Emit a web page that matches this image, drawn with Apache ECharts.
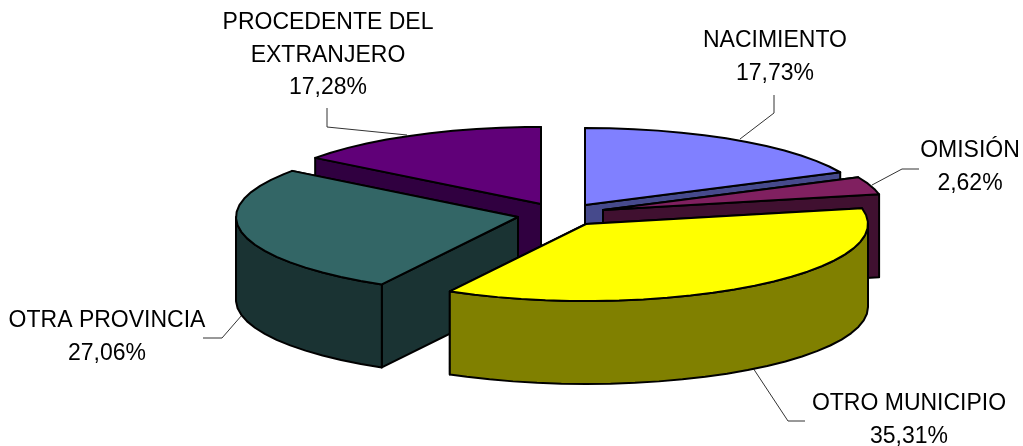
<!DOCTYPE html>
<html>
<head>
<meta charset="utf-8">
<style>
  html, body { margin: 0; padding: 0; background: #fff; }
  #chart { width: 1023px; height: 446px; }
</style>
<script src="https://cdn.jsdelivr.net/npm/echarts@6/dist/echarts.min.js"></script>
</head>
<body>
<div id="chart"></div>
<script>
// datos del grafico
const categories = ['NACIMIENTO', 'OMISIÓN', 'OTRO MUNICIPIO', 'OTRA PROVINCIA', 'PROCEDENTE DEL EXTRANJERO'];
const values = [17.73, 2.62, 35.31, 27.06, 17.28];

// estilo de cada porcion
const topColors = ['#8080FF', '#802060', '#FFFF00', '#336666', '#600078'];
const sideColors = ['#464A8C', '#401030', '#808000', '#1A3333', '#300040'];

// centro de cada porcion ya separada (explode)
const centers = [[585, 205], [603, 210], [586, 224], [518, 217], [541, 204]];
// la perspectiva del original corre un poco los limites entre porciones (grados)
const boundaryShift = [0, 1, 5, 8.5, 9, 0];
const rx = 282, ry = 77, depth = 83;
const arcStep = 5;
// atras primero, adelante al final
const drawOrder = [4, 0, 1, 3, 2];

// etiquetas: lineas de texto y linea guia
const labelLines = [
  ['NACIMIENTO', '17,73%'],
  ['OMISIÓN', '2,62%'],
  ['OTRO MUNICIPIO', '35,31%'],
  ['OTRA PROVINCIA', '27,06%'],
  ['PROCEDENTE DEL', 'EXTRANJERO', '17,28%']
];
const labelPos = [[775, 41], [970, 151], [909, 404], [107, 321], [328, 23]];
const lineGap = 32.5;
const leaders = [
  [[774, 95], [774, 113], [740, 139]],
  [[919, 169], [902, 169], [872, 185]],
  [[753, 368], [788, 421], [805, 421]],
  [[203, 338], [222, 338], [242, 315]],
  [[327, 108], [327, 127], [407, 135]]
];

const total = values.reduce((a, b) => a + b, 0);
let acc = 0;
const boundaries = [0];
values.forEach((v) => {
  acc += v;
  boundaries.push((acc / total) * 360);
});
boundaries.forEach((b, i) => {
  boundaries[i] = b + boundaryShift[i];
});

const pointAt = (c, deg) => {
  const r = (deg * Math.PI) / 180;
  return [c[0] + rx * Math.sin(r), c[1] - ry * Math.cos(r)];
};
const arc = (c, a0, a1) => {
  const pts = [];
  for (let a = a0; a < a1; a += arcStep) pts.push(pointAt(c, a));
  pts.push(pointAt(c, a1));
  return pts;
};
const down = (p) => [p[0], p[1] + depth];
const poly = (points, fill) => ({
  type: 'polygon',
  shape: { points },
  style: { fill, stroke: '#000', lineWidth: 2, lineJoin: 'round' }
});

const renderSlice = (params, api) => {
  const i = api.value(0);
  const c = centers[i];
  const a0 = boundaries[i], a1 = boundaries[i + 1];
  const side = sideColors[i];
  const children = [];

  // caras de corte, la de mas atras primero
  const cuts = [pointAt(c, a0), pointAt(c, a1)].sort((p, q) => p[1] - q[1]);
  cuts.forEach((p) => {
    children.push(poly([c, p, down(p), down(c)], side));
  });

  // pared exterior: solo la parte que mira al frente
  const f0 = Math.max(a0, 90), f1 = Math.min(a1, 270);
  if (f1 > f0) {
    const upper = arc(c, f0, f1);
    children.push(poly(upper.concat(upper.map(down).reverse()), side));
  }

  // cara superior
  children.push(poly([c].concat(arc(c, a0, a1)), topColors[i]));
  return { type: 'group', children };
};

const renderLabel = (params, api) => {
  const i = api.value(0);
  const children = [{
    type: 'polyline',
    shape: { points: leaders[i] },
    style: { fill: 'none', stroke: '#333', lineWidth: 1 }
  }];
  labelLines[i].forEach((line, k) => {
    children.push({
      type: 'text',
      style: {
        text: line,
        x: labelPos[i][0],
        y: labelPos[i][1] + k * lineGap,
        fill: '#000',
        font: '23px "Liberation Sans", Arial, sans-serif',
        align: 'center',
        verticalAlign: 'middle'
      }
    });
  });
  return { type: 'group', children };
};

const chart = echarts.init(document.getElementById('chart'), null, { renderer: 'canvas' });
chart.setOption({
  animation: false,
  backgroundColor: '#fff',
  series: [
    {
      type: 'custom',
      coordinateSystem: 'none',
      renderItem: renderLabel,
      silent: true,
      z: 1,
      data: categories.map((name, i) => [i, values[i]])
    },
    {
      type: 'custom',
      coordinateSystem: 'none',
      renderItem: renderSlice,
      silent: true,
      z: 2,
      data: drawOrder.map((i) => [i, values[i]])
    }
  ]
});
window.addEventListener('resize', () => chart.resize());
</script>
</body>
</html>
